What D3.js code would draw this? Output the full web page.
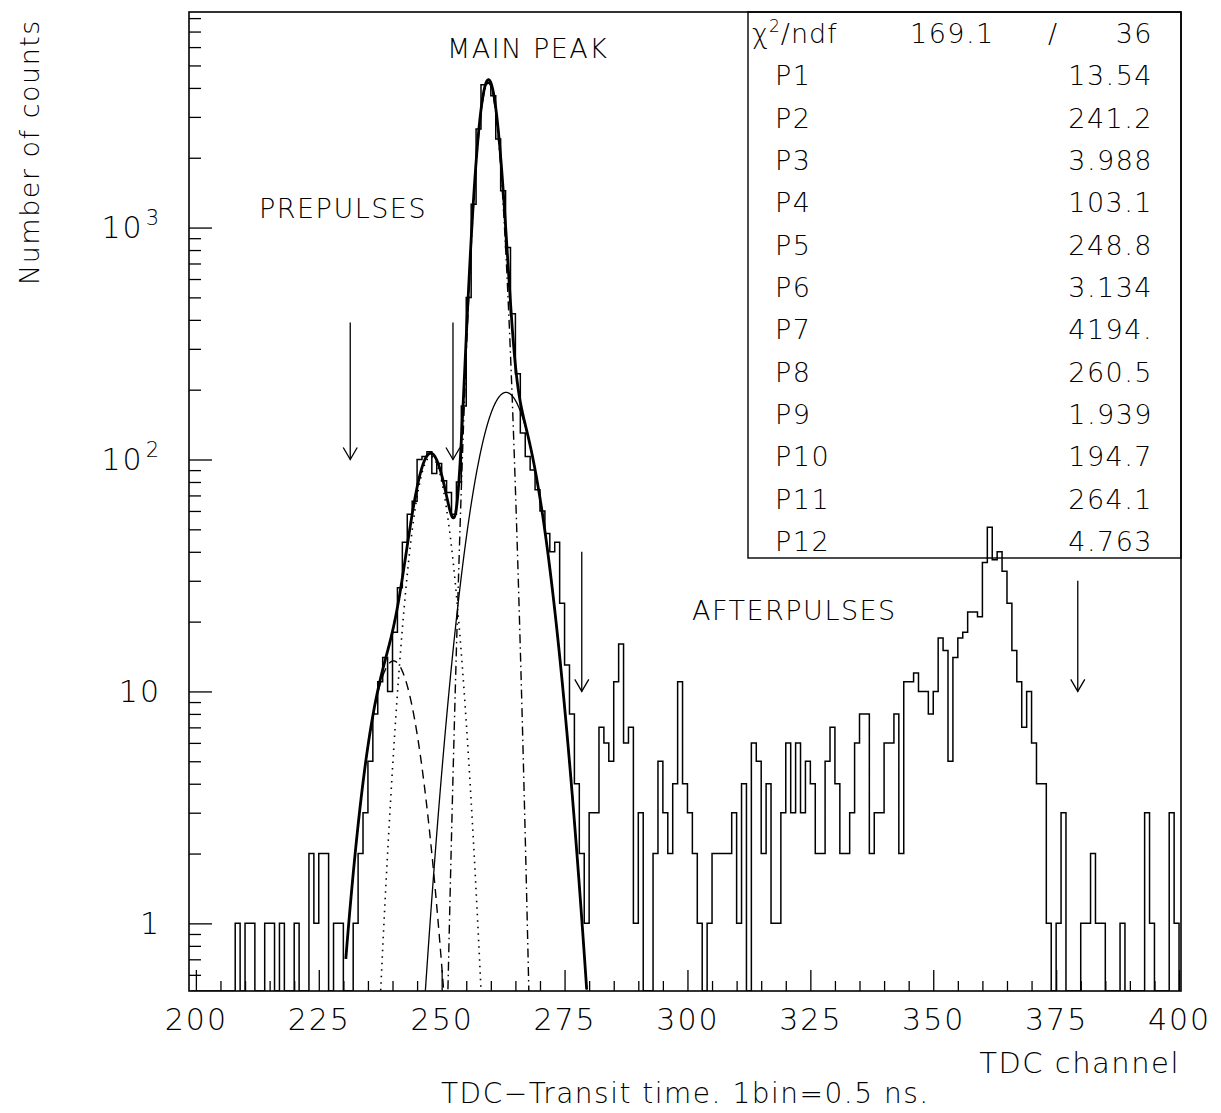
<!DOCTYPE html>
<html>
<head>
<meta charset="utf-8">
<script src="https://cdn.jsdelivr.net/npm/d3@7"></script>
<style>
  body { margin: 0; background: #fff; }
  svg { display: block; }
  text { font-family: "DejaVu Sans", sans-serif; font-weight: 200; fill: #000; }
</style>
</head>
<body>
<svg width="1221" height="1113"></svg>
<script>

// TDC histogram, one bin per channel, first bin = channel 199
const firstChannel = 199;
const counts = [
  0,                                              // 199
  0, 0, 0, 0, 0, 0, 0, 0, 1, 0,                   // 200
  1, 1, 0, 0, 1, 1, 0, 1, 0, 0,                   // 210
  1, 0, 0, 2, 1, 2, 2, 0, 1, 1,                   // 220
  0, 0, 1, 2, 3, 5, 8, 11, 14, 10,                // 230
  18, 28, 44, 58, 66, 100, 103, 108, 87, 96,      // 240
  81, 72, 58, 80, 170, 500, 1260, 2660, 4125, 4225, // 250
  3700, 2410, 1443, 820, 425, 234, 130, 103, 90, 74, // 260
  60, 48, 40, 44, 24, 13, 8, 4, 2, 1,             // 270
  3, 3, 7, 6, 5, 11, 16, 6, 7, 1,                 // 280
  3, 0, 0, 2, 5, 3, 2, 4, 11, 4,                  // 290
  3, 2, 1, 0, 1, 2, 2, 2, 2, 3,                   // 300
  1, 4, 0, 6, 5, 2, 4, 1, 1, 3,                   // 310
  6, 3, 6, 3, 5, 4, 2, 2, 5, 7,                   // 320
  4, 2, 2, 3, 6, 8, 8, 2, 3, 3,                   // 330
  6, 6, 8, 2, 11, 11, 12, 10, 10, 8,              // 340
  10, 17, 15, 5, 14, 17, 18, 22, 22, 21,          // 350
  36, 51, 37, 40, 33, 24, 15, 11, 7, 10,          // 360
  6, 4, 4, 1, 0, 1, 3, 0, 0, 0,                   // 370
  1, 1, 2, 1, 1, 0, 0, 0, 1, 0,                   // 380
  0, 0, 0, 3, 1, 0, 0, 0, 3, 1                    // 390
];

// fit: sum of four gaussians, P1..P12
const paramNames  = ["P1","P2","P3","P4","P5","P6","P7","P8","P9","P10","P11","P12"];
const paramValues = [13.54, 241.2, 3.988, 103.1, 248.8, 3.134, 4194, 260.5, 1.939, 194.7, 264.1, 4.763];
const paramText   = ["13.54","241.2","3.988","103.1","248.8","3.134","4194.","260.5","1.939","194.7","264.1","4.763"];
const chi2Text = "169.1";
const ndfText = "36";
const fitRange = [231.5, 280.5];
const fitShift = 1;   // fit channel -> axis channel

const xTicks = [200, 225, 250, 275, 300, 325, 350, 375, 400];
const yTicks = [1, 10, 100, 1000];

// arrows: channel, from count, to count
const arrowChannels = [231.4, 252.3, 278.5, 379.4];
const arrowFrom = [390, 390, 40, 30];
const arrowTo = [100, 100, 10, 10];

//###############################################
// scales
//###############################################
const svg = d3.select("svg");
const plotL = 189, plotR = 1181, plotT = 12, plotB = 991;

const x = d3.scaleLinear().domain([198.6, 400.4]).range([plotL, plotR]);
const y = d3.scaleLog().domain([0.511, 8500]).range([plotB, plotT]);

svg.append("defs").append("clipPath").attr("id", "plot")
  .append("rect").attr("x", plotL).attr("y", plotT)
  .attr("width", plotR - plotL).attr("height", plotB - plotT);

//###############################################
// axes
//###############################################
const minorX = d3.range(200, 401, 5).filter(d => d % 25 !== 0);
svg.append("g").attr("transform", `translate(0,${plotB})`)
  .call(d3.axisBottom(x).tickValues(minorX).tickSize(-10).tickFormat(""))
  .call(g => g.select(".domain").remove());

svg.append("g").attr("transform", `translate(0,${plotB})`)
  .call(d3.axisBottom(x).tickValues(xTicks).tickSize(-21).tickPadding(18).tickFormat(d3.format("d")))
  .call(g => g.select(".domain").remove())
  .call(g => g.selectAll("text")
    .style("font-family", '"DejaVu Sans", sans-serif')
    .style("font-weight", 200)
    .style("font-size", "30px")
    .style("letter-spacing", "2px"));

const minorY = [];
[0.1, 1, 10, 100, 1000].forEach(dec => {
  for (let k = 2; k <= 9; k++) {
    const v = dec * k;
    if (v >= 0.511 && v <= 8500) minorY.push(v);
  }
});
svg.append("g").attr("transform", `translate(${plotL},0)`)
  .call(d3.axisLeft(y).tickValues(minorY).tickSize(-12).tickFormat(""))
  .call(g => g.select(".domain").remove());
svg.append("g").attr("transform", `translate(${plotL},0)`)
  .call(d3.axisLeft(y).tickValues(yTicks).tickSize(-23).tickFormat(""))
  .call(g => g.select(".domain").remove());

svg.selectAll("line").attr("stroke", "#000").attr("stroke-width", 1.3);

// y labels with exponents
const yl = svg.append("g").selectAll("text").data(yTicks).join("text")
  .attr("x", 161)
  .attr("y", d => y(d))
  .attr("dy", "0.36em")
  .attr("text-anchor", "end")
  .style("font-size", "30px")
  .style("letter-spacing", "2px");
yl.append("tspan").text(d => d < 100 ? String(d) : "10");
yl.filter(d => d >= 100).append("tspan")
  .attr("dy", "-13")
  .attr("dx", "2")
  .style("font-size", "21px")
  .text(d => Math.round(Math.log10(d)));

// frame
svg.append("rect")
  .attr("x", plotL).attr("y", plotT)
  .attr("width", plotR - plotL).attr("height", plotB - plotT)
  .attr("fill", "none").attr("stroke", "#000").attr("stroke-width", 1.6);

//###############################################
// histogram
//###############################################
const pts = counts.map((c, i) => [firstChannel + i, c]);
pts.push([firstChannel + counts.length, counts[counts.length - 1]]);
pts.push([firstChannel + counts.length, 0]);

const histLine = d3.line()
  .x(d => x(d[0]))
  .y(d => d[1] > 0 ? y(d[1]) : plotB)
  .curve(d3.curveStepAfter);

svg.append("path")
  .attr("clip-path", "url(#plot)")
  .attr("d", histLine(pts))
  .attr("fill", "none")
  .attr("stroke", "#000")
  .attr("stroke-width", 1.5);

//###############################################
// fit curves
//###############################################
function gauss(p, i, t) {
  const a = p[i], m = p[i + 1], s = p[i + 2];
  return a * Math.exp(-(t - m) * (t - m) / (2 * s * s));
}
const comps = [
  {f: t => gauss(paramValues, 0, t), dash: "9,6", w: 1.4},
  {f: t => gauss(paramValues, 3, t), dash: "1.5,5", w: 1.6},
  {f: t => gauss(paramValues, 6, t), dash: "9,4,1.5,4", w: 1.4},
  {f: t => gauss(paramValues, 9, t), dash: null, w: 1.3},
  {f: t => [0, 3, 6, 9].reduce((s, i) => s + gauss(paramValues, i, t), 0), dash: null, w: 2.8}
];
const samples = d3.range(fitRange[0], fitRange[1] + 0.001, 0.05);
const fitLine = d3.line()
  .x(d => x(d[0] - fitShift))
  .y(d => y(Math.max(d[1], 0.05)));

svg.append("g").attr("clip-path", "url(#plot)")
  .selectAll("path").data(comps).join("path")
  .attr("d", c => fitLine(samples.map(t => [t, c.f(t)])))
  .attr("fill", "none")
  .attr("stroke", "#000")
  .attr("stroke-width", c => c.w)
  .attr("stroke-dasharray", c => c.dash);

//###############################################
// arrows and labels
//###############################################
const ar = svg.append("g").attr("stroke", "#000").attr("fill", "none").attr("stroke-width", 1.3);
arrowChannels.forEach((ch, i) => {
  const ax = x(ch), y0 = y(arrowFrom[i]), y1 = y(arrowTo[i]);
  ar.append("line").attr("x1", ax).attr("x2", ax).attr("y1", y0).attr("y2", y1);
  ar.append("path").attr("d", `M${ax - 7},${y1 - 12}L${ax},${y1}L${ax + 7},${y1 - 12}`);
});

function label(t, px, py, size, anchor) {
  return svg.append("text").attr("x", px).attr("y", py)
    .attr("text-anchor", anchor || "start")
    .style("font-size", size + "px")
    .style("letter-spacing", "1.5px")
    .text(t);
}
label("MAIN PEAK", 447, 58, 27);
label("PREPULSES", 259, 218, 27);
label("AFTERPULSES", 692, 620, 27);

label("TDC channel", 1180, 1073, 29, "end");
label("TDC\u2212Transit time. 1bin=0.5 ns.", 441, 1103, 28);

svg.append("text")
  .attr("transform", "translate(39,152) rotate(-90)")
  .attr("text-anchor", "middle")
  .style("font-size", "27px")
  .style("letter-spacing", "1.5px")
  .text("Number of counts");

//###############################################
// stats box
//###############################################
const boxLeft = 748, boxBottom = 558;
svg.append("rect")
  .attr("x", boxLeft).attr("y", plotT)
  .attr("width", plotR - boxLeft).attr("height", boxBottom - plotT)
  .attr("fill", "none").attr("stroke", "#000").attr("stroke-width", 1.4);

const rowH = 42.33, row0 = 43;
const chi = svg.append("text").attr("x", 752).attr("y", row0)
  .style("font-size", "27px").style("letter-spacing", "1px");
chi.append("tspan").text("\u03c7");
chi.append("tspan").attr("dy", -11).style("font-size", "17px").text("2");
chi.append("tspan").attr("dy", 11).text("/ndf");
label(chi2Text, 910, row0, 27);
label("/", 1048, row0, 27);
label(ndfText, 1153, row0, 27, "end");

paramNames.forEach((n, i) => {
  const by = row0 + rowH * (i + 1);
  label(n, 775, by, 27);
  label(paramText[i], 1153, by, 27, "end");
});

</script>
</body>
</html>
